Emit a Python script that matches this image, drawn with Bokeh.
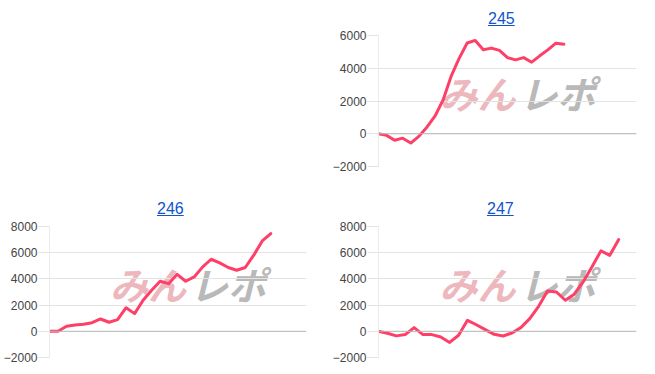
from bokeh.plotting import figure
from bokeh.models import Div, Spacer, FixedTicker, Span, Label, Range1d, BasicTickFormatter
from bokeh.layouts import row, column
from bokeh.embed import file_html
from bokeh.resources import INLINE

# ---- data ----
titles = ["245", "246", "247"]
vals_245 = [0, -100, -400, -270, -570, -160, 400, 1070, 2050, 3500, 4600, 5540,
            5700, 5130, 5230, 5090, 4650, 4510, 4650, 4370, 4760, 5120, 5530, 5470]
vals_246 = [0, 0, 380, 480, 535, 660, 940, 690, 890, 1800, 1350, 2370, 3130, 3820,
            3640, 4350, 3820, 4150, 4920, 5500, 5220, 4870, 4660, 4870, 5810, 6900, 7460]
vals_247 = [0, -150, -350, -250, 280, -250, -250, -430, -850, -300, 840, 500, 130,
            -230, -360, -130, 280, 970, 1910, 3080, 3000, 2370, 2830, 3770, 4920,
            6140, 5800, 7000]
x_max = [32, 30.2, 29]
y_min = [-2000, -2000, -2000]
y_max = [6000, 8000, 8000]
ticks_245 = [-2000, 0, 2000, 4000, 6000]
ticks_other = [-2000, 0, 2000, 4000, 6000, 8000]
wm_left = "みん"
wm_right = "レポ"

LINE = "#fe3f68"
GRID = "#e3e3e3"
LINK = "#1155cc"


def make_panel(title, vals, xmax, ymin, ymax, ticks, lb, rb, tb, bb, width, pad_left):
    frame_h = 131
    height = tb + frame_h + bb
    p = figure(width=width, height=height, x_range=Range1d(0, xmax),
               y_range=Range1d(ymin, ymax), toolbar_location=None,
               output_backend="svg", title_location=None,
               min_border_left=lb, min_border_right=rb,
               min_border_top=tb, min_border_bottom=bb)
    p.outline_line_color = None
    p.xaxis.visible = False
    p.xgrid.visible = False
    p.ygrid.grid_line_color = GRID
    p.ygrid.ticker = FixedTicker(ticks=ticks)
    ax = p.yaxis[0]
    ax.ticker = FixedTicker(ticks=ticks)
    ax.formatter = BasicTickFormatter(use_scientific=False)
    ax.axis_line_color = "#ebebeb"
    ax.major_tick_line_color = GRID
    ax.major_tick_out = 11
    ax.major_tick_in = 0
    ax.minor_tick_line_color = None
    ax.major_label_standoff = 1
    ax.major_label_text_font = "Liberation Sans"
    ax.major_label_text_font_size = "12px"
    ax.major_label_text_color = "#444444"

    xc = xmax / 2.0
    yc = (ymin + ymax) / 2.0
    p.add_layout(Label(x=xc, y=yc, x_offset=8, y_offset=9, text=wm_left,
                       text_align="right", text_baseline="middle",
                       text_font="Noto Sans CJK JP", text_font_style="bold italic",
                       text_font_size="38px", text_color="#ecb8be", level="image"))
    p.add_layout(Label(x=xc, y=yc, x_offset=12, y_offset=9, text=wm_right,
                       text_align="left", text_baseline="middle",
                       text_font="Noto Sans CJK JP", text_font_style="bold italic",
                       text_font_size="38px", text_color="#b9b9b9", level="image"))
    p.add_layout(Span(location=0, dimension="width", line_color="#b8b8b8", line_width=1))

    xs = list(range(len(vals)))
    p.line(xs, vals, line_color=LINE, line_width=3, line_join="round", line_cap="round")

    div = Div(text=(f'<div style="padding-top:8px;padding-left:{pad_left}px;">'
                    f'<a href="#" style="color:{LINK};font-family:\'Liberation Sans\',Arial,sans-serif;'
                    f'font-size:16px;text-decoration:underline;">{title}</a></div>'),
              width=width, height=27, margin=(0, 0, 0, 0))
    return column(div, p, spacing=0)


top_right = make_panel(titles[0], vals_245, x_max[0], y_min[0], y_max[0], ticks_245,
                       51, 17, 8, 24, 326, 161)
bot_left = make_panel(titles[1], vals_246, x_max[1], y_min[1], y_max[1], ticks_other,
                      48, 21, 9, 14, 327, 157)
bot_right = make_panel(titles[2], vals_247, x_max[2], y_min[2], y_max[2], ticks_other,
                       51, 17, 9, 14, 326, 160)

layout = column(
    row(Spacer(width=327, height=190, margin=(0, 0, 0, 0)), top_right, spacing=0),
    row(bot_left, bot_right, spacing=0),
    spacing=0,
)

open("out.html", "w").write(file_html(layout, INLINE))
